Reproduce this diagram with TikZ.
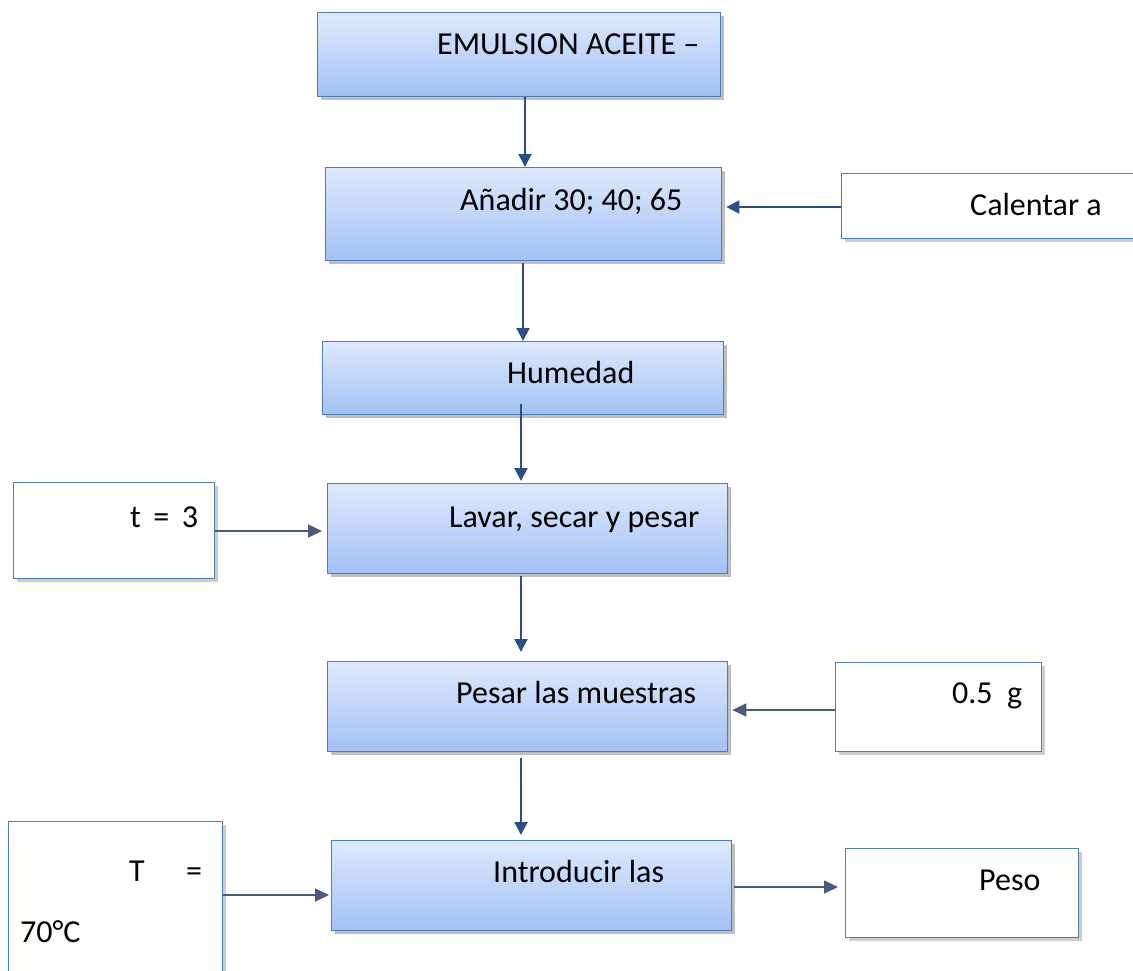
\documentclass[tikz,border=0pt]{standalone}
\usepackage{fontspec}
\setmainfont{Carlito}
\usetikzlibrary{arrows.meta,shadows,calc}
\definecolor{boxtop}{HTML}{DEE9FD}
\definecolor{boxbot}{HTML}{A3C1F5}
\definecolor{boxline}{HTML}{4A7EBB}
\definecolor{darkarrow}{HTML}{2A4F86}
\definecolor{grayarrow}{HTML}{4A5A78}
\tikzset{
  procbox/.style={draw=boxline, line width=1.3pt, top color=boxtop, bottom color=boxbot,
    drop shadow={shadow xshift=3pt, shadow yshift=-3pt, fill=black, opacity=0.25},
    anchor=north west, inner sep=0pt},
  inbox/.style={draw=boxline, line width=1.3pt, fill=white,
    drop shadow={shadow xshift=3pt, shadow yshift=-3pt, fill=black, opacity=0.2},
    anchor=north west, inner sep=0pt},
  txt/.style={anchor=base west, inner sep=0pt, font=\fontsize{32}{38}\selectfont},
  varrow/.style={draw=darkarrow, line width=2pt, -{Triangle[length=13pt,width=13pt]}},
  harrow/.style={draw=darkarrow, line width=2pt, -{Triangle[length=13pt,width=13pt]}},
  garrow/.style={draw=grayarrow, line width=1.4pt, -{Triangle[length=14pt,width=13pt]}},
}
\begin{document}
\begin{tikzpicture}[x=1pt,y=-1pt]
\useasboundingbox (0,0) rectangle (1133,970);
\clip (0,0) rectangle (1133,970);
\fill[white] (0,0) rectangle (1133,970);
% process boxes
\node[procbox, minimum width=403pt, minimum height=84pt] (emul) at (317,12) {};
\node[procbox, minimum width=396pt, minimum height=93pt] (anadir) at (325,167) {};
\node[procbox, minimum width=401pt, minimum height=73pt] (humedad) at (322,341) {};
\node[procbox, minimum width=400pt, minimum height=90pt] (lavar) at (327,483) {};
\node[procbox, minimum width=400pt, minimum height=90pt] (pesar) at (327,661) {};
\node[procbox, minimum width=400pt, minimum height=90pt] (intro) at (331,840) {};
% side boxes
\node[inbox, minimum width=310pt, minimum height=65pt] (calentar) at (841,173) {};
\node[inbox, minimum width=201pt, minimum height=96pt] (tres) at (13,482) {};
\node[inbox, minimum width=206pt, minimum height=89pt] (medio) at (835,662) {};
\node[inbox, minimum width=214pt, minimum height=160pt] (temp) at (8,821) {};
\node[inbox, minimum width=233pt, minimum height=89pt] (peso) at (845,848) {};
% texts
\node[txt] (temul) at (437,54) {EMULSION ACEITE –};
\node[txt] (tanadir) at (460,210) {Añadir 30; 40; 65};
\node[txt] (tcal) at (970,215) {Calentar a};
\node[txt] (thum) at (507,383) {Humedad};
\node[txt] (ttres) at (130,527) {t \,=\, 3};
\node[txt] (tlavar) at (449,527) {Lavar, secar y pesar};
\node[txt] (tpesar) at (456,703) {Pesar las muestras};
\node[txt] (tmedio) at (952,703) {0.5\ \ g};
\node[txt] (tT) at (129,881) {T};
\node[txt] (teq) at (186,881) {=};
\node[txt] (t70) at (20,942) {70°C};
\node[txt] (tintro) at (493,882) {Introducir las};
\node[txt] (tpeso) at (979,890) {Peso};
% vertical arrows
\draw[varrow] (emul.south -| 525,0) -- (anadir.north -| 525,0);
\draw[varrow] ([yshift=-2pt]anadir.south -| 523,0) -- (humedad.north -| 523,0);
\draw[varrow] ([yshift=11pt]humedad.south -| 521,0) -- ([yshift=2pt]lavar.north -| 521,0);
\draw[varrow, shorten >=9pt] ([yshift=-2pt]lavar.south -| 521,0) -- (pesar.north -| 521,0);
\draw[varrow, shorten >=5pt] ([yshift=-6pt]pesar.south -| 521,0) -- (intro.north -| 521,0);
% horizontal arrows
\draw[harrow, shorten >=4pt] (calentar.west |- 0,207) -- (anadir.east |- 0,207);
\draw[garrow, shorten >=5pt] (tres.east |- 0,531) -- (lavar.west |- 0,531);
\draw[garrow, shorten >=4pt] (medio.west |- 0,710) -- (pesar.east |- 0,710);
\draw[garrow, shorten >=2pt] (temp.east |- 0,895) -- (intro.west |- 0,895);
\draw[garrow, shorten <=2pt, shorten >=7pt] (intro.east |- 0,887) -- (peso.west |- 0,887);
\end{tikzpicture}
\end{document}
